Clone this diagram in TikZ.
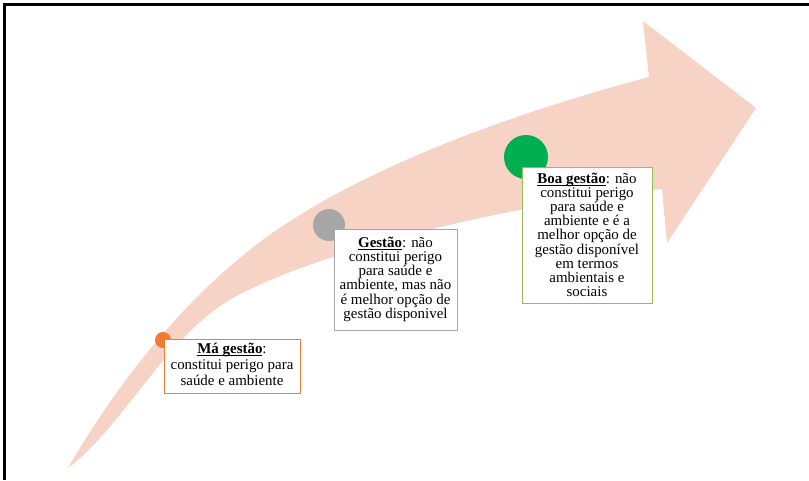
\documentclass[tikz,border=0pt]{standalone}
\usepackage{fontspec}
\setmainfont{Liberation Serif}
\definecolor{arrowpink}{RGB}{247,211,198}
\definecolor{dotorange}{RGB}{237,125,49}
\definecolor{dotgray}{RGB}{166,166,166}
\definecolor{dotgreen}{RGB}{0,176,80}
\definecolor{boxgreen}{RGB}{155,187,89}
\newcommand\ulbf[1]{\underline{\smash{\textbf{#1}}}}
\begin{document}
\begin{tikzpicture}[x=0.75pt,y=-0.75pt,
  lbl/.style={draw, fill=white, line width=0.75pt, align=center, inner sep=0pt,
    font=\fontsize{11.2}{10.6}\selectfont},
  dot/.style={circle, inner sep=0pt, draw=none}]
\useasboundingbox (0,0) rectangle (809,480);
\fill[white] (0,0) rectangle (809,480);
% curved arrow
\fill[arrowpink] (68,468)
  .. controls (123,373) and (201.5,276) .. (295,218)
  .. controls (397,154) and (533,108) .. (649,77)
  -- (643,21) -- (756,108) -- (667,243) -- (662,189)
  .. controls (522,203) and (338,244.5) .. (240,294)
  .. controls (168.8,330) and (125,425) .. (68,468)
  -- cycle;
% dots
\node[dot, fill=dotorange, minimum size=12pt] (cma) at (163,340) {};
\node[dot, fill=dotgray, minimum size=24pt] (cgestao) at (329,225) {};
\node[dot, fill=dotgreen, minimum size=33pt] (cboa) at (526,157) {};
% boxes
\node[lbl, draw=dotorange, minimum width=102pt, minimum height=40.5pt,
  font=\fontsize{11.2}{12.2}\selectfont] (ma) at (232,366)
  {\ulbf{Má gestão}:\\constitui perigo para\\saúde e ambiente};
\node[lbl, draw=dotgray, minimum width=92.25pt, minimum height=75.75pt] (gestao) at (395.5,279.5)
  {\ulbf{Gestão}: não\\constitui perigo\\para saúde e\\ambiente, mas não\\é melhor opção de\\gestão disponivel};
\node[lbl, draw=boxgreen, minimum width=97.5pt, minimum height=102pt] (boa) at (587,235)
  {\ulbf{Boa gestão}: não\\constitui perigo\\para saúde e\\ambiente e é a\\melhor opção de\\gestão disponível\\em termos\\ambientais e\\sociais};
% frame
\coordinate (fb) at (4,480);
\coordinate (ft) at (4,4);
\coordinate (fr) at (809,4);
\draw[line width=2.25pt] (fb) -- (ft) -- (fr);
\end{tikzpicture}
\end{document}
